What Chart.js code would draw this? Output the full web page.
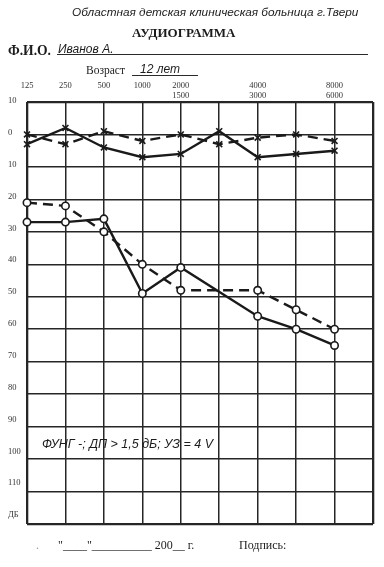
<!DOCTYPE html>
<html>
<head>
<meta charset="utf-8">
<script src="https://cdn.jsdelivr.net/npm/chart.js@4.4.1/dist/chart.umd.min.js"></script>
<style>
  html, body { margin:0; padding:0; background:#fff; }
  #wrap { position:relative; width:384px; height:567px; overflow:hidden; }
  #c { position:absolute; left:0; top:0; }
  .t { position:absolute; white-space:nowrap; line-height:1; color:#1c1c1c; }
  .sans { font-family:"Liberation Sans", Arial, sans-serif; font-style:italic; }
  .serif { font-family:"Liberation Serif", "Times New Roman", serif; }
  .ul { position:absolute; height:1px; background:#2a2a2a; }
</style>
</head>
<body>
<div id="wrap">
  <canvas id="c" width="384" height="567"></canvas>
  <div class="t sans" style="left:72px; top:6.5px; font-size:11.8px;">Областная детская клиническая больница г.Твери</div>
  <div class="t serif" style="left:132px; top:26px; font-size:13px; font-weight:bold;">АУДИОГРАММА</div>
  <div class="t serif" style="left:8px; top:43.5px; font-size:13.6px; font-weight:bold;">Ф.И.О.</div>
  <div class="t sans" style="left:58px; top:42.5px; font-size:12px;">Иванов А.</div>
  <div class="ul" style="left:57px; top:54px; width:311px;"></div>
  <div class="t serif" style="left:86px; top:64.5px; font-size:11.5px;">Возраст</div>
  <div class="t sans" style="left:140px; top:63px; font-size:12px;">12 лет</div>
  <div class="ul" style="left:132px; top:75px; width:66px;"></div>
  <div class="t sans" style="left:42px; top:438px; font-size:12.5px;">ФУНГ -; ДП &gt; 1,5 дБ; УЗ = 4 V</div>
  <div class="t serif" style="left:36px; top:539px; font-size:12px; color:#999;">.</div>
  <div class="t serif" style="left:58px; top:539px; font-size:12px;">"____"__________ 200__ г.</div>
  <div class="t serif" style="left:239px; top:539px; font-size:12px;">Подпись:</div>
</div>
<script>
// ---- data ----
const freqTop    = ['125','250','500','1000','2000','','4000','','8000',''];
const freqBottom = ['','','','','1500','','3000','','6000',''];
const dbTickValues = [-10,0,10,20,30,40,50,60,70,80,90,100,110,120];
const dbTickLabels = ['10','0','10','20','30','40','50','60','70','80','90','100','110','ДБ'];
const boneSolid  = [3,-2,4,7,6,-1,7,6,5];
const boneDashed = [0,3,-1,2,0,3,1,0,2];
const airSolid   = [27,27,26,49,41,null,56,60,65];
const airDashed  = [21,22,30,40,48,null,48,54,60];

const INK = '#1a1a1a';
const GRID = '#262626';
const tickFont = { family:'"Liberation Serif", "Times New Roman", serif', size:8.5, lineHeight:1.2 };

function series(data, dashed, style) {
  return {
    data: data,
    borderColor: INK,
    borderWidth: 2.4,
    borderDash: dashed ? [10, 6] : [],
    pointStyle: style,
    pointRadius: style === 'circle' ? 3.7 : 4.2,
    pointBorderWidth: 1.6,
    pointBorderColor: INK,
    pointBackgroundColor: '#fff',
    backgroundColor: '#fff',
    fill: false,
    tension: 0,
    spanGaps: true,
    clip: false
  };
}

new Chart(document.getElementById('c').getContext('2d'), {
  type: 'line',
  data: {
    labels: freqTop.map((t, i) => [t, freqBottom[i]]),
    datasets: [
      series(boneSolid, false, 'crossRot'),
      series(boneDashed, true, 'crossRot'),
      series(airSolid, false, 'circle'),
      series(airDashed, true, 'circle')
    ]
  },
  options: {
    responsive: false,
    animation: false,
    devicePixelRatio: 1,
    layout: { padding: { left: 8, right: 11, top: 60, bottom: 43 } },
    plugins: { legend: { display: false }, tooltip: { enabled: false } },
    scales: {
      x: {
        type: 'category',
        position: 'top',
        offset: false,
        border: { display: false },
        grid: {
          color: GRID,
          drawTicks: false,
          lineWidth: c => (c.index === 0 || c.index === freqTop.length - 1) ? 2.3 : 1.5
        },
        ticks: { autoSkip: false, maxRotation: 0, minRotation: 0, padding: 1, color: '#333', font: tickFont },
        afterFit: s => { s.height = 42; }
      },
      y: {
        type: 'linear',
        position: 'left',
        reverse: true,
        min: -10,
        max: 120,
        border: { display: false },
        grid: {
          color: GRID,
          drawTicks: false,
          lineWidth: c => (c.tick && (c.tick.value === -10 || c.tick.value === 120)) ? 2.3 : 1.5
        },
        ticks: { display: false, stepSize: 10 },
        afterFit: s => { s.width = 0; }
      },
      yLab: {
        type: 'linear',
        position: 'left',
        reverse: true,
        min: -9.686,
        max: 122.83,
        border: { display: false },
        grid: { display: false, drawTicks: false },
        afterBuildTicks: s => { s.ticks = dbTickValues.map(v => ({ value: v })); },
        ticks: {
          crossAlign: 'far',
          padding: 0,
          color: '#333',
          font: tickFont,
          callback: (v, i) => dbTickLabels[i]
        },
        afterFit: s => { s.width = 19; }
      }
    }
  }
});
</script>
</body>
</html>
